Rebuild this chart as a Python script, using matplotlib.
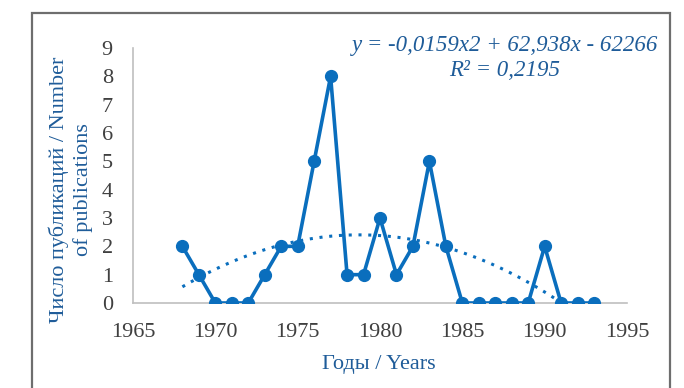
import numpy as np
import matplotlib.pyplot as plt

# Publications per year
years = [1968, 1969, 1970, 1971, 1972, 1973, 1974, 1975, 1976, 1977, 1978, 1979, 1980,
         1981, 1982, 1983, 1984, 1985, 1986, 1987, 1988, 1989, 1990, 1991, 1992, 1993]
counts = [2, 1, 0, 0, 0, 1, 2, 2, 5, 8, 1, 1, 3,
          1, 2, 5, 2, 0, 0, 0, 0, 0, 2, 0, 0, 0]

x_ticks = [1965, 1970, 1975, 1980, 1985, 1990, 1995]
y_ticks = list(range(10))

equation = "y = -0,0159x2 + 62,938x - 62266\nR² = 0,2195"

LINE_BLUE = "#0A6EBD"
TEXT_BLUE = "#1F5C99"
SERIF = ["Liberation Serif", "DejaVu Serif"]

fig = plt.figure(figsize=(6.84, 3.88), dpi=100)
ax = fig.add_axes([133 / 684, 1 - 303 / 388, (627 - 133) / 684, (303 - 48) / 388])

# frame around the chart area
fig.add_artist(plt.Rectangle((32 / 684, -0.02), (670 - 32) / 684, 1 - 13 / 388 + 0.02,
                             transform=fig.transFigure, fill=False,
                             edgecolor="#6E6E6E", linewidth=1.6))

ax.plot(years, counts, color=LINE_BLUE, linewidth=2.6, marker="o", markersize=8.5, zorder=3)

# second-order trendline
coef = np.polyfit(years, counts, 2)
xs = np.linspace(years[0], years[-1], 200)
ax.plot(xs, np.polyval(coef, xs), color=LINE_BLUE, linewidth=2.2,
        linestyle=(0, (1, 2.2)), zorder=2)

ax.set_xlim(x_ticks[0], x_ticks[-1])
ax.set_ylim(0, 9)
ax.set_xticks(x_ticks)
ax.set_yticks(y_ticks)
ax.tick_params(length=0, labelsize=16, labelcolor="#404040")
ax.tick_params(axis="x", pad=14.5)
ax.tick_params(axis="y", pad=14.5)
for lbl in ax.get_xticklabels() + ax.get_yticklabels():
    lbl.set_family(SERIF)

for side in ["top", "right"]:
    ax.spines[side].set_visible(False)
for side in ["left", "bottom"]:
    ax.spines[side].set_color("#BFBFBF")
    ax.spines[side].set_linewidth(1.2)
ax.spines["left"].set_bounds(0, 9)

fig.text(379 / 684, 1 - 364 / 388, "Годы / Years", family=SERIF, fontsize=16,
         color=TEXT_BLUE, ha="center", va="center")
fig.text(71 / 684, 1 - 190 / 388, "Число публикаций / Number\nof publications",
         family=SERIF, fontsize=16, color=TEXT_BLUE, rotation=90,
         ha="center", va="center", multialignment="center", linespacing=1.25)

fig.text(505 / 684, 1 - 58 / 388, equation, family=SERIF, style="italic",
         fontsize=16.5, color=TEXT_BLUE, ha="center", va="center",
         multialignment="center", linespacing=1.2)

fig.savefig("out.png", dpi=100)
